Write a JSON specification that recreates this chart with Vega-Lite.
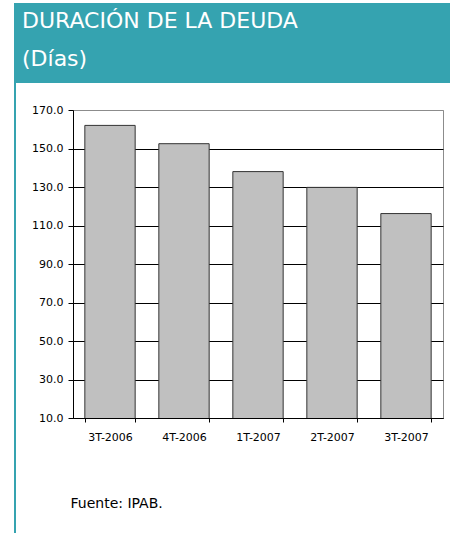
{
  "$schema": "https://vega.github.io/schema/vega-lite/v6.json",
  "padding": {"left": 14, "top": 3, "right": 0, "bottom": 0},
  "background": "white",
  "config": {"view": {"stroke": null}, "font": "DejaVu Sans"},
  "spacing": 0,
  "hconcat": [
    {
      "width": 2,
      "height": 530,
      "view": {"fill": "#35a3b0", "stroke": null},
      "data": {"values": [{}]},
      "mark": {"type": "text", "text": ""}
    },
    {
      "spacing": 20,
      "vconcat": [
        {
          "width": 434,
          "height": 80,
          "view": {"fill": "#35a3b0", "stroke": null},
          "title": {
            "text": ["DURACIÓN DE LA DEUDA", "(Días)"],
            "anchor": "start",
            "frame": "group",
            "orient": "top",
            "offset": -68,
            "dx": 6,
            "baseline": "top",
            "color": "white",
            "font": "DejaVu Sans",
            "fontSize": 22,
            "fontWeight": "normal",
            "lineHeight": 38
          },
          "data": {"values": [{}]},
          "mark": {"type": "text", "text": ""}
        },
        {
          "spacing": 0,
          "hconcat": [
            {
              "width": 1,
              "height": 1,
              "view": {"stroke": null},
              "data": {"values": [{}]},
              "mark": {"type": "text", "text": ""}
            },
            {
              "width": 370,
              "height": 308,
              "view": {"stroke": "#8c8c8c", "strokeWidth": 1},
              "data": {
                "values": [
                  {"trimestre": "3T-2006", "dias": 162.0},
                  {"trimestre": "4T-2006", "dias": 152.5},
                  {"trimestre": "1T-2007", "dias": 138.0},
                  {"trimestre": "2T-2007", "dias": 129.8},
                  {"trimestre": "3T-2007", "dias": 116.2}
                ]
              },
              "mark": {"type": "bar", "fill": "#c0c0c0", "stroke": "#333333", "strokeWidth": 1, "clip": true},
              "encoding": {
                "x": {
                  "field": "trimestre",
                  "type": "nominal",
                  "sort": null,
                  "scale": {"paddingInner": 0.32, "paddingOuter": 0.16},
                  "axis": {
                    "title": "Fuente: IPAB.",
                    "titleAnchor": "start",
                    "titleAlign": "left",
                    "titleX": -3,
                    "titleY": 89,
                    "titleBaseline": "alphabetic",
                    "titleFont": "DejaVu Sans",
                    "titleFontSize": 14,
                    "titleFontWeight": "normal",
                    "titleColor": "black",
                    "labelAngle": 0,
                    "tickBand": "extent",
                    "domainColor": "black",
                    "tickColor": "black",
                    "tickSize": 4,
                    "labelPadding": 9,
                    "labelFont": "DejaVu Sans",
                    "labelFontSize": 11,
                    "labelColor": "black"
                  }
                },
                "y": {
                  "field": "dias",
                  "type": "quantitative",
                  "scale": {"domain": [10, 170], "nice": false, "zero": false},
                  "axis": {
                    "title": null,
                    "values": [10, 30, 50, 70, 90, 110, 130, 150, 170],
                    "format": ".1f",
                    "grid": true,
                    "gridColor": {"condition": {"test": "datum.value >= 170", "value": "#8c8c8c"}, "value": "black"},
                    "gridWidth": 1,
                    "domainColor": "black",
                    "tickColor": "black",
                    "tickSize": 5,
                    "labelPadding": 5,
                    "labelFont": "DejaVu Sans",
                    "labelFontSize": 11,
                    "labelColor": "black",
                    "minExtent": 55,
                    "maxExtent": 55
                  }
                }
              }
            }
          ]
        }
      ]
    }
  ]
}
